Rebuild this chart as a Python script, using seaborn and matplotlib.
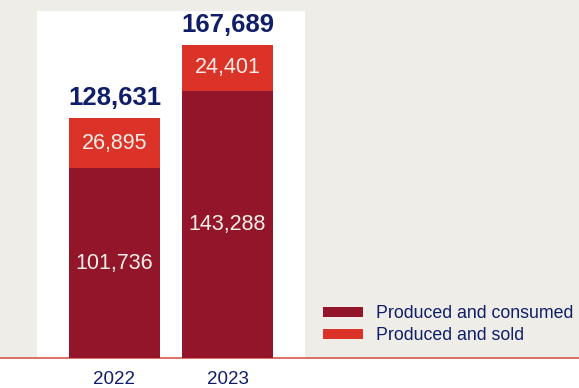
import matplotlib
matplotlib.use("Agg")
import matplotlib.pyplot as plt
import seaborn as sns
import pandas as pd
from matplotlib.patches import Patch, Rectangle

years = ["2022", "2023"]
consumed = [101736, 143288]
sold = [26895, 24401]
totals = [128631, 167689]
series_labels = ["Produced and consumed", "Produced and sold"]

C_DARK = "#93152A"
C_RED = "#DC3328"
C_NAVY = "#101E6A"
C_BG = "#EEEDE8"
C_TXT = "#F4EEE8"

sns.set_theme(style="white")
plt.rcParams["font.family"] = ["Liberation Sans", "DejaVu Sans"]

W, H = 579, 388
fig = plt.figure(figsize=(W / 100, H / 100), dpi=100, facecolor="white")
base_px = 358
ax = fig.add_axes([0, (H - base_px) / H, 1, base_px / H])
ax.set_facecolor(C_BG)

df = pd.DataFrame({"year": years, "consumed": consumed, "sold": sold,
                   "total": totals})

px_per_unit_x = 113.0
center0 = 114.5
xl = -center0 / px_per_unit_x
xr = (W - center0) / px_per_unit_x
ymax = 191850

# white panel
px0, px1, ptop = 37, 305, 11
ax.add_patch(Rectangle(((px0 - center0) / px_per_unit_x, 0),
                       (px1 - px0) / px_per_unit_x,
                       ymax * (base_px - ptop) / base_px,
                       facecolor="white", edgecolor="none", zorder=0))

bw = 91 / px_per_unit_x
sns.barplot(data=df, x="year", y="total", color=C_RED, width=bw,
            saturation=1, ax=ax, zorder=2, linewidth=0, edgecolor="none")
sns.barplot(data=df, x="year", y="consumed", color=C_DARK, width=bw,
            saturation=1, ax=ax, zorder=3, linewidth=0, edgecolor="none")

ax.set_xlim(xl, xr)
ax.set_ylim(0, ymax)

for i in range(len(years)):
    ax.text(i, consumed[i] / 2, f"{consumed[i]:,}", ha="center", va="center",
            color=C_TXT, fontsize=15.5, zorder=5)
    ax.text(i, consumed[i] + sold[i] / 2, f"{sold[i]:,}", ha="center",
            va="center", color=C_TXT, fontsize=15.5, zorder=5)
    ax.annotate(f"{totals[i]:,}", (i, totals[i]), xytext=(0, 6),
                textcoords="offset points", ha="center", va="bottom",
                color=C_NAVY, fontsize=18.5, fontweight="bold", zorder=5)

ax.set_xlabel("")
ax.set_ylabel("")
ax.set_yticks([])
ax.tick_params(axis="x", length=0, pad=9, labelsize=13.5, labelcolor=C_NAVY)
for s in ["top", "left", "right"]:
    ax.spines[s].set_visible(False)
ax.spines["bottom"].set_color("#D6574C")
ax.spines["bottom"].set_linewidth(1.2)

handles = [Patch(facecolor=C_DARK, edgecolor="none"),
           Patch(facecolor=C_RED, edgecolor="none")]
leg = fig.legend(handles, series_labels, loc="upper left",
                 bbox_to_anchor=(323 / W, 1 - 305 / H), frameon=False,
                 fontsize=12.8, handlelength=2.25, handleheight=0.5,
                 handletextpad=0.75, labelspacing=0.3, borderpad=0,
                 borderaxespad=0)
for t in leg.get_texts():
    t.set_color(C_NAVY)

fig.savefig("out.png", dpi=100, facecolor="white")
